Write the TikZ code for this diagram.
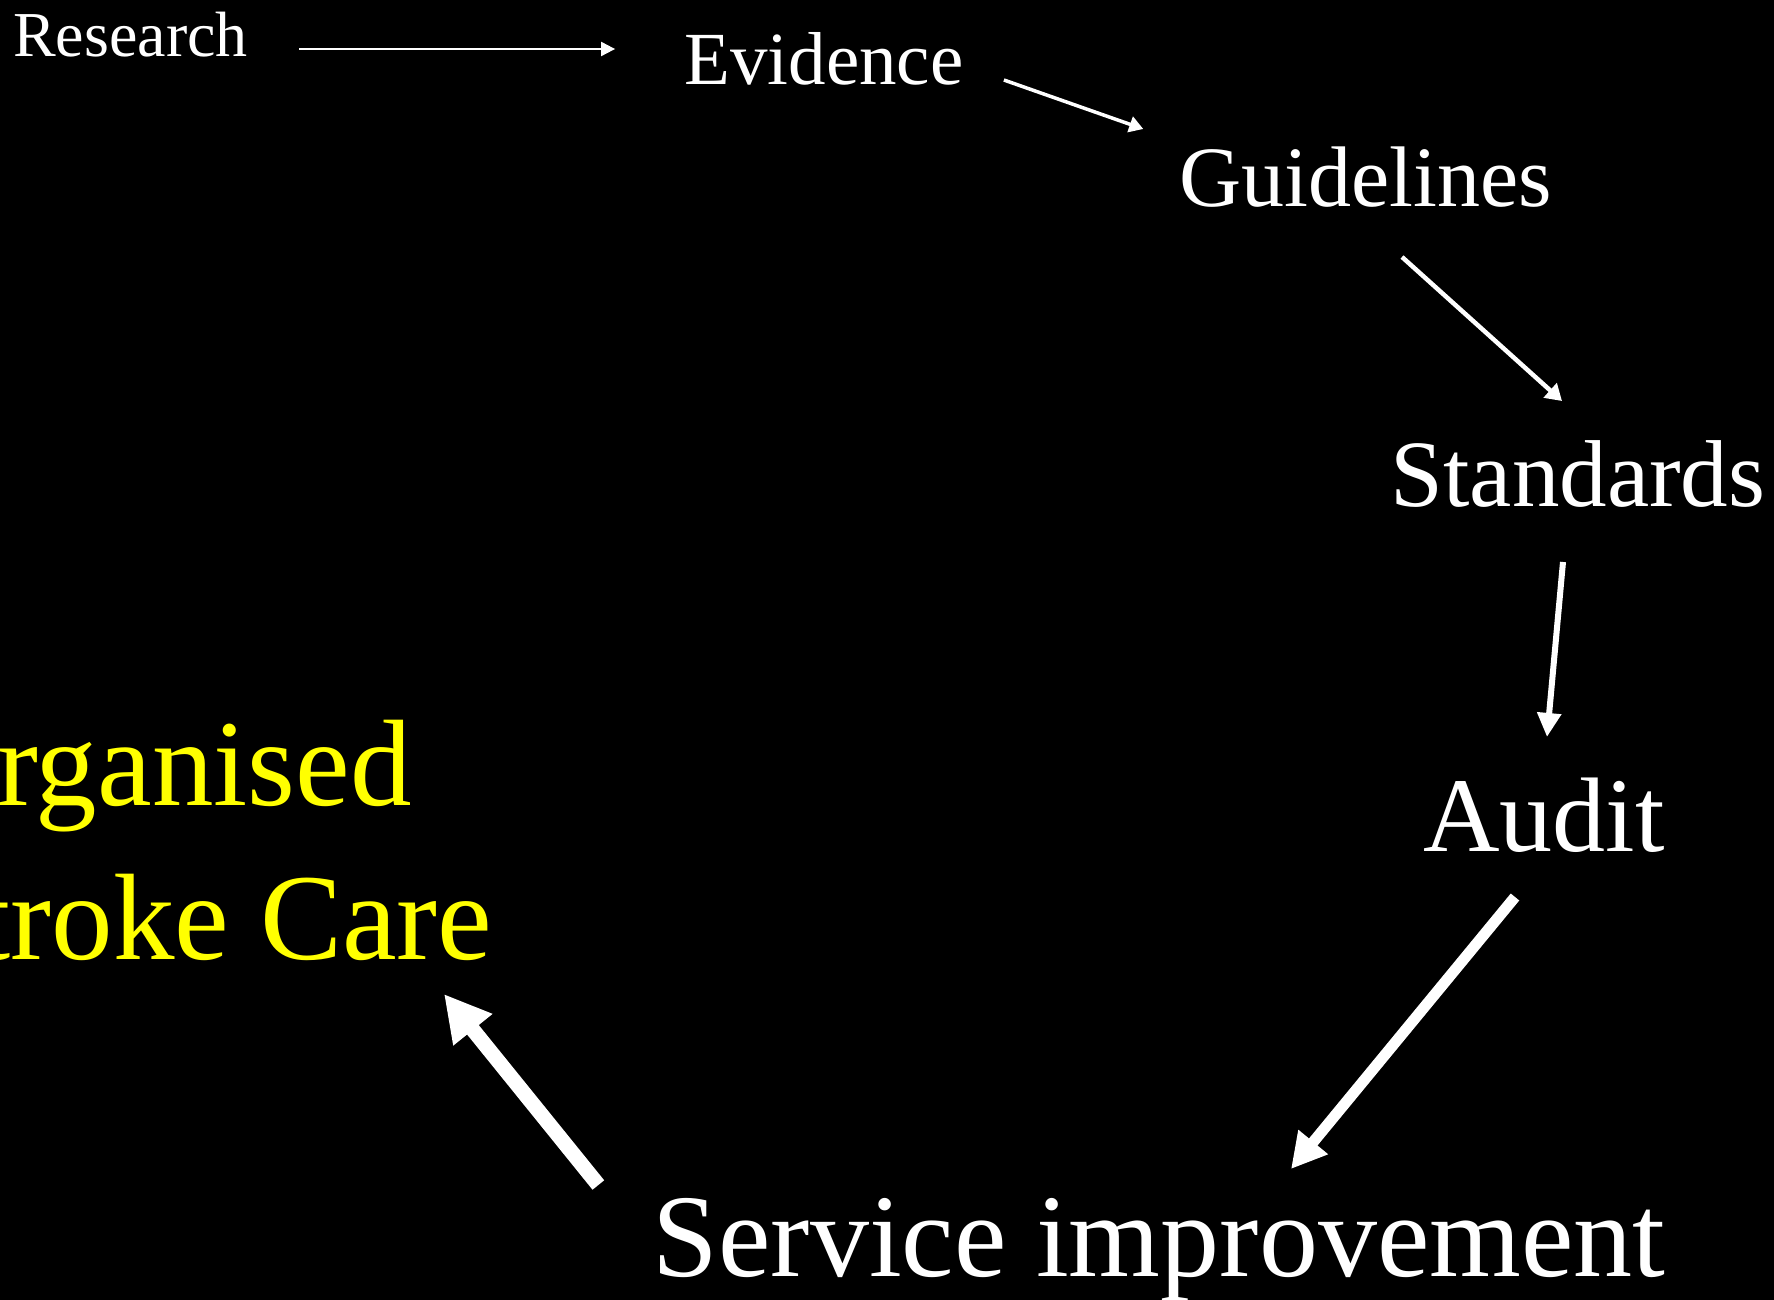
\documentclass[tikz,border=0pt]{standalone}
\usepackage{fontspec}
\setmainfont{Liberation Serif}
\usetikzlibrary{arrows.meta}
\definecolor{careyellow}{RGB}{255,255,0}
\begin{document}
\begin{tikzpicture}[x=0.5pt,y=-0.5pt]

    \tikzset{
      word/.style={
        text=white,
        inner sep=0pt,
        anchor=base,
      },
      link/.style n args={3}{
        draw=white,
        line width=#1,
        -{Triangle[length=#2,width=#3]},
      },
    }
    \fill[black] (0,0) rectangle (1774,1300);
    \useasboundingbox (0,0) rectangle (1774,1300);
    \clip (0,0) rectangle (1774,1300);
	\node[word, font=\fontsize{32}{38}\selectfont] (research) at (130.5,57) {Research};
	\node[word, font=\fontsize{37.5}{45}\selectfont] (evidence) at (824,85) {Evidence};
	\node[word, font=\fontsize{43}{52}\selectfont] (guidelines) at (1366,207) {Guidelines};
	\node[word, font=\fontsize{47.5}{57}\selectfont] (standards) at (1578,506) {Standards};
	\node[word, font=\fontsize{53}{64}\selectfont] (audit) at (1544,851) {Audit};
	\node[word, font=\fontsize{59}{71}\selectfont] (service) at (1159,1276) {Service improvement};
	\node[word, text=careyellow, anchor=base west, align=left, font=\fontsize{61.5}{77}\selectfont] (care) at (-92,959) {Organised\\Stroke Care};
	\draw[link={1pt}{7pt}{7pt}] ([shift={(51,-8)}]research.base east) -- ([shift={(-69,-36)}]evidence.base west);
	\draw[link={1.75pt}{7pt}{8pt}] ([shift={(40,-5)}]evidence.base east) -- ([shift={(-36,-78)}]guidelines.base west);
	\draw[link={2.25pt}{8pt}{9.5pt}] ([shift={(36,50)}]guidelines.base) -- ([shift={(-16,-105)}]standards.base);
	\draw[link={3pt}{12pt}{11.5pt}] ([shift={(-15,56)}]standards.base) -- ([shift={(3,-114)}]audit.base);
	\draw[link={5.5pt}{17.5pt}{18pt}] ([shift={(-29,46)}]audit.base) -- ([shift={(132,-107)}]service.base);
	\draw[link={7.5pt}{23pt}{23.5pt}] ([shift={(-54,-91)}]service.base west) -- ([shift={(536,35)}]care.base west);

\end{tikzpicture}
\end{document}
